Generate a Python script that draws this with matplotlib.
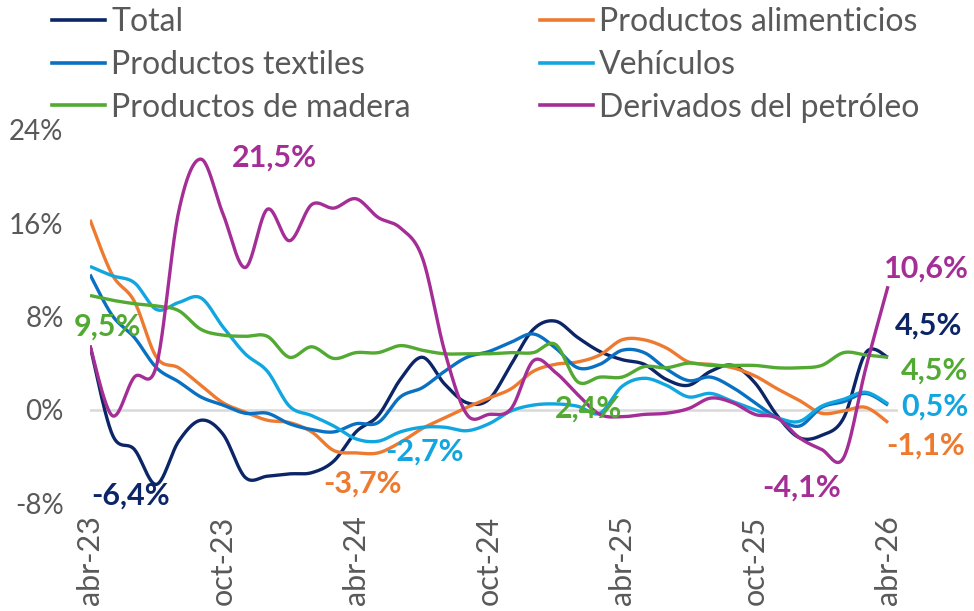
import numpy as np
import matplotlib
matplotlib.use("Agg")
import matplotlib.pyplot as plt
from matplotlib.lines import Line2D

plt.rcParams['font.family'] = ['Lato', 'DejaVu Sans']

mes = ['ene', 'feb', 'mar', 'abr', 'may', 'jun', 'jul', 'ago', 'sep', 'oct', 'nov', 'dic']
months = [f"{mes[(3 + i) % 12]}-{23 + (3 + i) // 12}" for i in range(37)]  # abr-23 .. abr-26
tick_labels = ['abr-23', 'oct-23', 'abr-24', 'oct-24', 'abr-25', 'oct-25', 'abr-26']

total = [5.5, -2.1, -3.4, -6.4, -2.7, -0.9, -2.1, -5.8, -5.7, -5.5, -5.4, -4.4, -1.9,
         -0.5, 2.6, 4.5, 2.2, 0.6, 0.9, 3.9, 6.9, 7.6, 6.2, 5.0, 4.3, 3.9, 2.6, 2.1,
         3.3, 3.8, 2.3, -0.5, -2.4, -2.2, -0.7, 4.9, 4.5]
alimenticios = [16.3, 11.6, 9.3, 4.5, 3.6, 2.1, 0.6, -0.2, -0.9, -1.1, -1.9, -3.5, -3.7,
                -3.7, -2.8, -1.6, -0.7, 0.2, 1.0, 1.8, 3.3, 3.9, 4.1, 4.7, 6.0, 6.0, 5.3,
                4.1, 3.9, 3.6, 2.9, 1.8, 0.8, -0.3, -0.1, 0.2, -1.1]
textiles = [11.6, 8.1, 6.2, 3.6, 2.4, 1.1, 0.4, -0.3, -0.3, -1.2, -1.7, -1.9, -1.2,
            -1.1, 1.1, 1.9, 3.3, 4.5, 5.0, 5.8, 6.5, 5.3, 3.6, 3.9, 5.1, 4.9, 3.5, 2.5,
            2.8, 1.9, 0.6, -0.7, -1.4, 0.2, 0.7, 1.4, 0.4]
vehiculos = [12.3, 11.5, 10.9, 8.6, 9.2, 9.6, 7.1, 4.8, 3.3, 0.3, -0.5, -1.4, -2.5,
             -2.7, -1.9, -1.5, -1.5, -1.8, -1.2, -0.1, 0.4, 0.5, 0.3, -0.3, 2.0, 2.7,
             2.1, 1.1, 1.4, 0.7, 0.0, -0.7, -1.0, 0.3, 0.9, 1.5, 0.5]
madera = [9.8, 9.4, 9.1, 8.9, 8.5, 6.9, 6.4, 6.3, 6.3, 4.5, 5.4, 4.4, 4.9, 4.9, 5.5,
          5.1, 4.8, 4.8, 4.8, 4.9, 4.9, 5.6, 2.4, 2.8, 2.8, 3.7, 3.6, 4.0, 3.8, 3.8,
          3.8, 3.6, 3.6, 3.8, 4.9, 4.7, 4.5]
petroleo = [5.5, -0.5, 2.8, 3.8, 17.0, 21.5, 16.8, 12.2, 17.2, 14.5, 17.6, 17.3, 18.1,
            16.5, 15.6, 13.0, 5.0, -0.4, -0.4, 0.1, 4.2, 3.2, 1.3, -0.4, -0.6, -0.4,
            -0.3, 0.1, 1.0, 0.6, -0.4, -0.7, -2.4, -3.4, -4.1, 3.6, 10.6]

series = [
    ('Total', total, '#0B2566'),
    ('Productos alimenticios', alimenticios, '#EE7A30'),
    ('Productos textiles', textiles, '#0A70C2'),
    ('Vehículos', vehiculos, '#12A6E0'),
    ('Productos de madera', madera, '#52AA32'),
    ('Derivados del petróleo', petroleo, '#A42E96'),
]

# value labels: (text, month index, y, series colour index)
labels = [
    ('21,5%', 8.3, 21.6, 5), ('9,5%', 0.8, 7.1, 4), ('-6,4%', 1.85, -7.4, 0),
    ('-3,7%', 12.3, -6.3, 1), ('-2,7%', 15.1, -3.6, 3), ('2,4%', 22.5, 0.1, 4),
    ('10,6%', 37.75, 12.1, 5), ('4,5%', 37.85, 7.2, 0), ('4,5%', 38.1, 3.4, 4),
    ('0,5%', 38.1, 0.3, 3), ('-1,1%', 37.7, -3.1, 1), ('-4,1%', 32.1, -6.7, 5),
]


def smooth(x, y, n=24):
    # Excel-like smoothed line (Catmull-Rom through the points)
    x = np.asarray(x, float)
    y = np.asarray(y, float)
    px = np.concatenate([[x[0]], x, [x[-1]]])
    py = np.concatenate([[y[0]], y, [y[-1]]])
    t = np.linspace(0, 1, n, endpoint=False)[:, None]
    out_x, out_y = [], []
    for i in range(1, len(px) - 2):
        p0, p1, p2, p3 = [np.array([px[j], py[j]]) for j in (i - 1, i, i + 1, i + 2)]
        c1 = p1 + (p2 - p0) / 6
        c2 = p2 - (p3 - p1) / 6
        b = ((1 - t) ** 3) * p1 + 3 * ((1 - t) ** 2) * t * c1 + 3 * (1 - t) * t ** 2 * c2 + t ** 3 * p2
        out_x.append(b[:, 0])
        out_y.append(b[:, 1])
    out_x.append([x[-1]])
    out_y.append([y[-1]])
    return np.concatenate(out_x), np.concatenate(out_y)


fig = plt.figure(figsize=(9.74, 6.11), dpi=100)
ax = fig.add_axes([90 / 974, 108 / 611, 808 / 974, 373 / 611])

x = np.arange(len(months))
ax.axhline(0, color='#D9D9D9', lw=1.8, zorder=1)
handles = []
for name, vals, col in series:
    sx, sy = smooth(x, vals)
    ax.plot(sx, sy, color=col, lw=2.4, solid_capstyle='butt', zorder=3)
    handles.append(Line2D([], [], color=col, lw=2.6))

for txt, lx, ly, ci in labels:
    ax.text(lx, ly, txt, color=series[ci][2], fontsize=22, fontweight='bold',
            ha='center', va='center')

ax.set_xlim(0, 36.45)
ax.set_ylim(-8, 24)
ax.set_yticks([-8, 0, 8, 16, 24])
ax.set_yticklabels([f"{v}%" for v in [-8, 0, 8, 16, 24]])
ax.set_xticks([months.index(m) for m in tick_labels])
ax.set_xticklabels(tick_labels, rotation=90)
ax.tick_params(axis='both', length=0, labelcolor='#595959')
ax.tick_params(axis='y', pad=19, labelsize=20)
ax.tick_params(axis='x', pad=9, labelsize=22)
for s in ax.spines.values():
    s.set_visible(False)

order = [0, 2, 4, 1, 3, 5]
fig.legend([handles[i] for i in order], [series[i][0] for i in order],
           loc='upper left', bbox_to_anchor=(52 / 974, 1 - 7 / 611), ncol=2,
           frameon=False, fontsize=23, handlelength=1.65, handletextpad=0.2,
           columnspacing=4.05, labelspacing=0.4, borderpad=0, borderaxespad=0,
           labelcolor='#595959')

fig.savefig('out.png', dpi=100)
